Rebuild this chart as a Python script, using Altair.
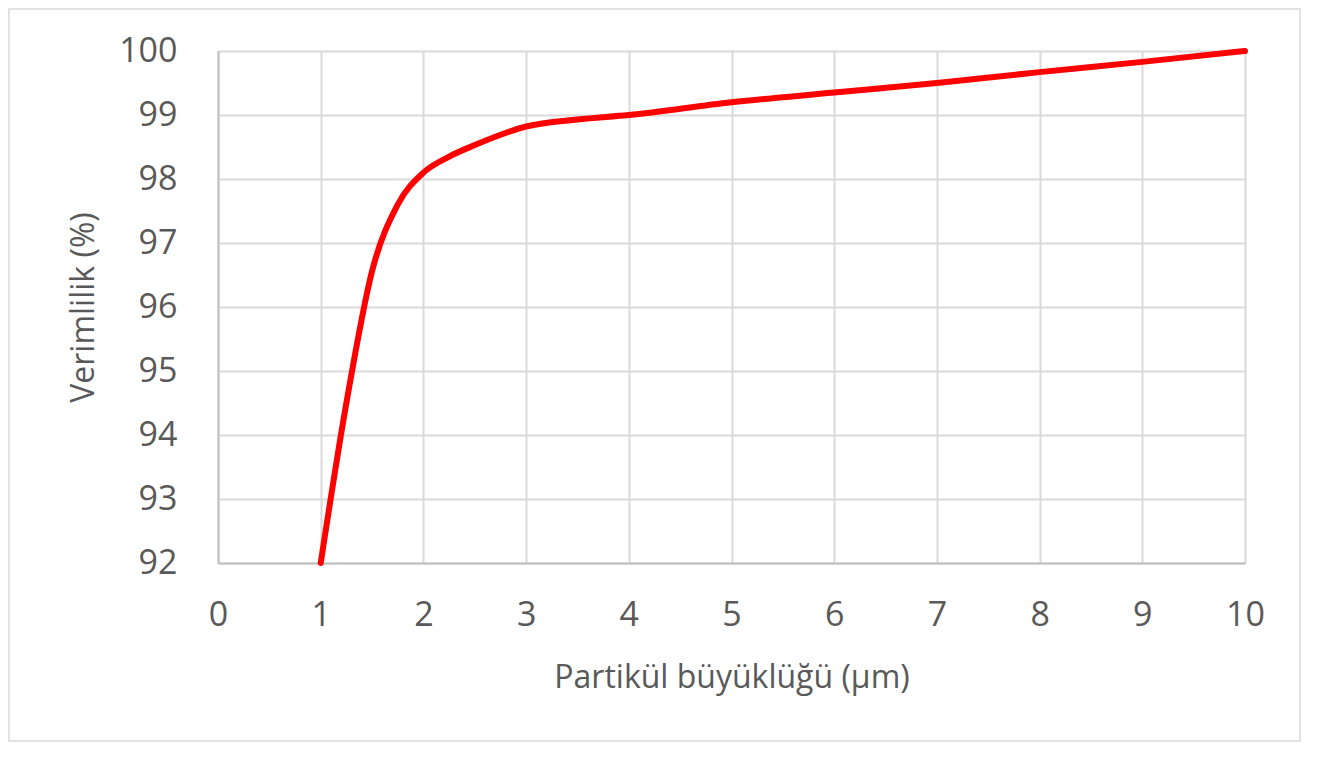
import altair as alt
import pandas as pd

size_um = [1, 1.25, 1.5, 1.75, 2, 2.25, 2.5, 3, 3.5, 4, 5, 6, 7, 8, 9, 10]
efficiency = [92, 94.5, 96.56, 97.6, 98.1, 98.35, 98.53, 98.82, 98.93, 99.0, 99.2, 99.35, 99.5, 99.67, 99.83, 100]
x_ticks = list(range(0, 11))
y_ticks = list(range(92, 101))

df = pd.DataFrame({"x": size_um, "y": efficiency})

FONT = "Open Sans"
TXT = "#595959"

line = alt.Chart(df).mark_line(
    color="#ff0000", strokeWidth=6, interpolate="monotone", strokeCap="round"
).encode(
    x=alt.X("x:Q", scale=alt.Scale(domain=[0, 10], nice=False),
            axis=alt.Axis(title="Partikül büyüklüğü (µm)", values=x_ticks)),
    y=alt.Y("y:Q", scale=alt.Scale(domain=[92, 100], nice=False, zero=False),
            axis=alt.Axis(title="Verimlilik (%)", values=y_ticks)),
)

border = alt.Chart(pd.DataFrame({"a": [0]})).mark_rect(
    fill=None, stroke="#d9d9d9", strokeWidth=1.5, clip=False
).encode(
    x=alt.value(-209), x2=alt.value(1082), y=alt.value(-42), y2=alt.value(690)
)

chart = alt.layer(border, line).properties(
    width=1027, height=512,
    padding={"left": 210, "top": 43, "right": 56, "bottom": 180},
    autosize=alt.AutoSizeParams(type="none"),
).configure_view(stroke=None).configure_axis(
    grid=True, gridColor="#d9d9d9", gridWidth=2,
    domainColor="#bfbfbf", domainWidth=2,
    ticks=False, labelFont=FONT, labelFontSize=34, labelColor=TXT,
    labelOverlap=False, labelFlush=False,
    titleFont=FONT, titleFontSize=32, titleColor=TXT, titleFontWeight="normal",
).configure_axisX(
    labelPadding=35, titlePadding=30, domain=True,
).configure_axisY(
    labelPadding=41, titlePadding=18, domain=True,
)

chart.save("out.html", embed_options={"renderer": "svg", "actions": False})
